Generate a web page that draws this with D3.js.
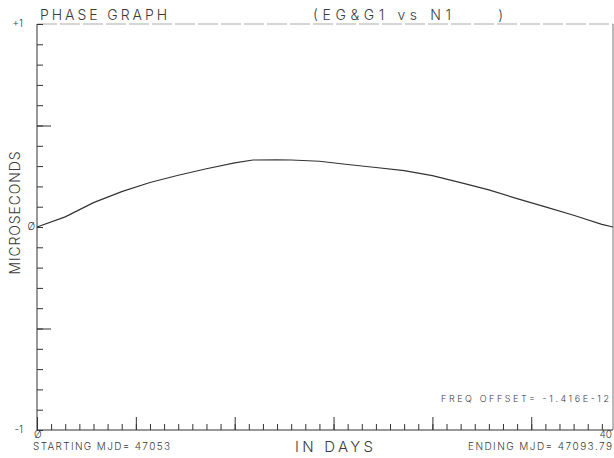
<!DOCTYPE html>
<html><head><meta charset="utf-8">
<script src="https://cdn.jsdelivr.net/npm/d3@7"></script>
<style>
body{margin:0;background:#fff;}
text{font-family:"Inter","DejaVu Sans",sans-serif;font-weight:300;fill:#3a3a3a;}
</style></head>
<body><svg id="c" width="614" height="458"></svg>
<script>
// Data (days since start, phase in microseconds)
const days   = [0, 2, 4, 6, 8, 10, 12, 14, 15.3, 17, 18, 20, 22, 24, 26, 28, 30, 32, 34, 36, 38, 40, 40.79];
const phase  = [0, 0.05, 0.12, 0.174, 0.219, 0.255, 0.287, 0.316, 0.330, 0.331, 0.330, 0.324, 0.308, 0.293, 0.278, 0.253, 0.219, 0.183, 0.140, 0.099, 0.058, 0.013, 0];
const xDomain = [0, 40.79];
const yDomain = [-1, 1];
const xMinorTicks = d3.range(0, 41, 1);
const xMajorTicks = [0, 7, 14, 21, 28, 35];
const yMinorTicks = d3.range(-10, 11).map(v => v / 10);
const yMajorTicks = [-0.5, 0.5];
const yTickLabels = [{v: 1, t: "+1"}, {v: 0, t: "Ø"}, {v: -1, t: "-1"}];

const svg = d3.select("#c");
const L = 37, R = 613, T = 24, B = 430;
const x = d3.scaleLinear().domain(xDomain).range([L, R]);
const y = d3.scaleLinear().domain(yDomain).range([B, T]);

// frame
svg.append("line").attr("x1", L).attr("x2", R).attr("y1", T).attr("y2", T)
  .attr("stroke", "#aaa").attr("stroke-width", 1).attr("stroke-dasharray", "20,3");
svg.append("line").attr("x1", R).attr("x2", R).attr("y1", T).attr("y2", B)
  .attr("stroke", "#777").attr("stroke-width", 1);

// y axis
const yAxis = d3.axisRight(y).tickValues(yMinorTicks).tickSize(6).tickFormat("");
const gy = svg.append("g").attr("transform", `translate(${L},0)`).call(yAxis);
gy.selectAll("line").attr("stroke", "#333");
gy.select(".domain").attr("stroke", "#333").attr("d", `M0,${T}V${B}`);
const yAxisMaj = d3.axisRight(y).tickValues(yMajorTicks).tickSize(14).tickFormat("");
const gy2 = svg.append("g").attr("transform", `translate(${L},0)`).call(yAxisMaj);
gy2.select(".domain").remove();
gy2.selectAll("line").attr("stroke", "#333");

// x axis
const xAxis = d3.axisTop(x).tickValues(xMinorTicks).tickSize(6).tickFormat("");
const gx = svg.append("g").attr("transform", `translate(0,${B})`).call(xAxis);
gx.selectAll("line").attr("stroke", "#333");
gx.select(".domain").attr("stroke", "#333").attr("d", `M${L},0H${R}`);
const xAxisMaj = d3.axisTop(x).tickValues(xMajorTicks).tickSize(13).tickFormat("");
const gx2 = svg.append("g").attr("transform", `translate(0,${B})`).call(xAxisMaj);
gx2.select(".domain").remove();
gx2.selectAll("line").attr("stroke", "#333");

// y tick labels
svg.selectAll(".ylab").data(yTickLabels).enter().append("text")
  .attr("x", d => d.v === 0 ? 35 : 23).attr("y", d => y(d.v) + 3)
  .attr("text-anchor", "end").attr("font-size", 10).text(d => d.t);

// x tick labels
svg.append("text").attr("x", x(0) - 3).attr("y", 438).attr("font-size", 10).text("Ø");
svg.append("text").attr("x", x(40) + 10).attr("y", 438).attr("text-anchor", "end").attr("font-size", 10).text("40");

// line
const line = d3.line().x((d, i) => x(days[i])).y((d, i) => y(phase[i]));
svg.append("path").datum(phase).attr("d", line).attr("fill", "none")
  .attr("stroke", "#333").attr("stroke-width", 1.2);

// titles
svg.append("text").attr("x", 40).attr("y", 20).attr("font-size", 14)
  .attr("textLength", 127).attr("lengthAdjust", "spacing").text("PHASE GRAPH");
svg.append("text").attr("x", 313).attr("y", 20).attr("font-size", 14)
  .attr("xml:space", "preserve").attr("textLength", 190).attr("lengthAdjust", "spacing")
  .text("(EG&G1 vs N1     )");

// axis titles
svg.append("text").attr("transform", "translate(20,213) rotate(-90)")
  .attr("text-anchor", "middle").attr("font-size", 14)
  .attr("textLength", 123).attr("lengthAdjust", "spacing").text("MICROSECONDS");
svg.append("text").attr("x", 295).attr("y", 452).attr("font-size", 15)
  .attr("textLength", 78).attr("lengthAdjust", "spacing").text("IN DAYS");
svg.append("text").attr("x", 33).attr("y", 450).attr("font-size", 10)
  .attr("textLength", 137).attr("lengthAdjust", "spacing").text("STARTING MJD= 47053");
svg.append("text").attr("x", 468).attr("y", 450).attr("font-size", 10)
  .attr("textLength", 144).attr("lengthAdjust", "spacing").text("ENDING MJD= 47093.79");
svg.append("text").attr("x", 441).attr("y", 402).attr("font-size", 9)
  .attr("textLength", 168).attr("lengthAdjust", "spacing").text("FREQ OFFSET= -1.416E-12");
</script></body></html>
